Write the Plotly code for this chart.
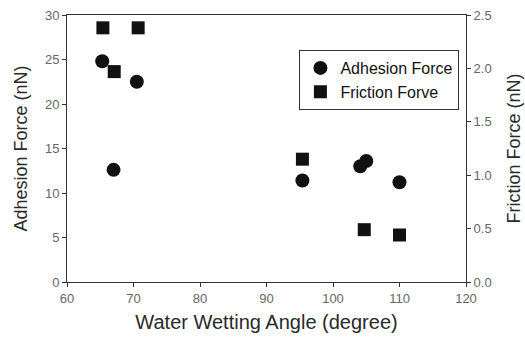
import plotly.graph_objects as go

adh_angle = [65.3, 67.0, 70.5, 95.4, 104.1, 105.0, 110.0]
adh_force = [24.8, 12.6, 22.5, 11.4, 13.0, 13.6, 11.2]

fric_angle = [65.4, 67.1, 70.7, 95.4, 104.7, 110.0]
fric_force = [2.38, 1.97, 2.38, 1.15, 0.49, 0.44]

x_ticks = [60, 70, 80, 90, 100, 110, 120]
y_ticks = [0, 5, 10, 15, 20, 25, 30]
y2_ticks = [0.0, 0.5, 1.0, 1.5, 2.0, 2.5]

font_family = "Liberation Sans, Arial, sans-serif"
tick_color = "#666666"
line_color = "#333333"
title_color = "#2a2a2a"

fig = go.Figure()
fig.add_trace(go.Scatter(
    x=adh_angle, y=adh_force, mode="markers", name="Adhesion Force",
    marker=dict(symbol="circle", size=14, color="#111111"),
))
fig.add_trace(go.Scatter(
    x=fric_angle, y=fric_force, mode="markers", name="Friction Forve",
    marker=dict(symbol="square", size=13, color="#111111"),
    yaxis="y2",
))

axis_common = dict(
    showgrid=False, zeroline=False, showline=True, linecolor=line_color,
    linewidth=1, ticks="outside", ticklen=4, tickcolor=line_color,
    tickfont=dict(family=font_family, size=13, color=tick_color),
    automargin=False,
)

fig.update_layout(
    width=525, height=340,
    margin=dict(l=67, r=59, t=15, b=58),
    paper_bgcolor="white", plot_bgcolor="white",
    font=dict(family=font_family),
    showlegend=True,
    legend=dict(
        x=0.5825, y=0.869, xanchor="left", yanchor="top",
        bordercolor="#333333", borderwidth=1, bgcolor="white",
        font=dict(family=font_family, size=16, color="#111111"),
        tracegroupgap=0,
    ),
    xaxis=dict(
        range=[60, 120], tickvals=x_ticks, mirror=True,
        title=dict(text="Water Wetting Angle (degree)", standoff=10,
                   font=dict(family=font_family, size=20, color=title_color)),
        **axis_common,
    ),
    yaxis=dict(
        range=[0, 30], tickvals=y_ticks,
        title=dict(text="Adhesion Force (nN)", standoff=12,
                   font=dict(family=font_family, size=18, color=title_color)),
        **axis_common,
    ),
    yaxis2=dict(
        range=[0, 2.5], tickvals=y2_ticks, tickformat=".1f",
        overlaying="y", side="right",
        title=dict(text="Friction Force (nN)", standoff=16,
                   font=dict(family=font_family, size=18, color=title_color)),
        **axis_common,
    ),
)

fig.write_html("out.html")
